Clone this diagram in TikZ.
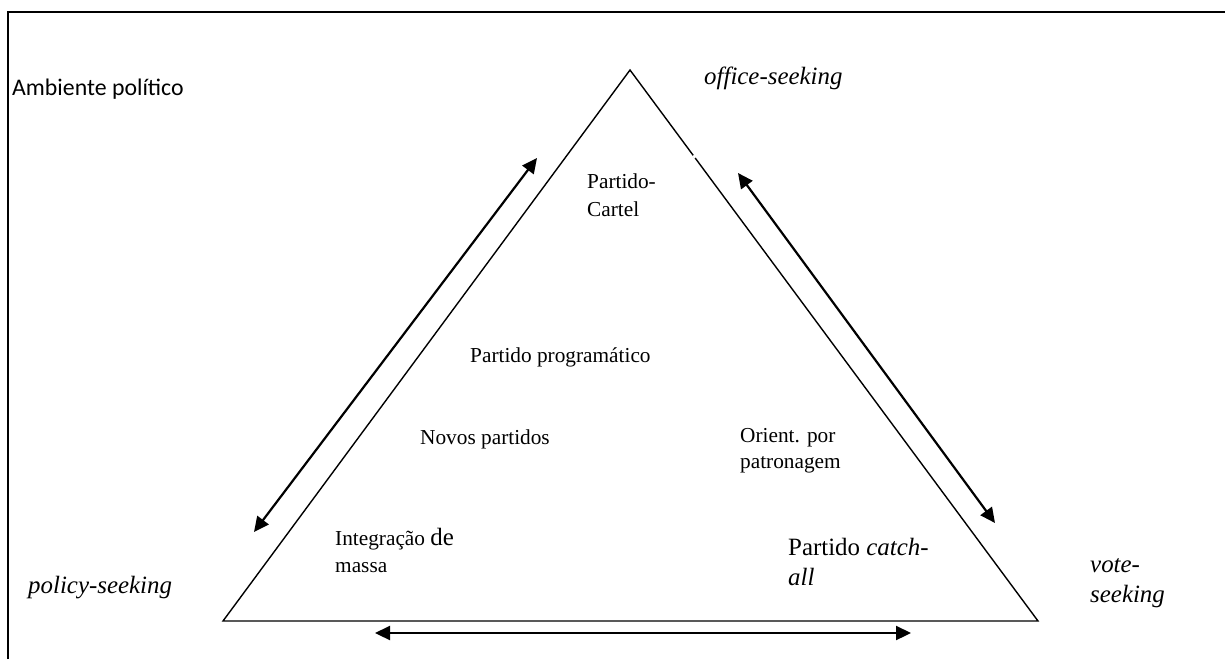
\documentclass[tikz,border=0pt]{standalone}
\usepackage{fontspec}
\setmainfont{Liberation Serif}
\newfontfamily\calibrifont{Carlito}
\usetikzlibrary{arrows.meta}

% two lines of text whose baseline is that of the first line
\newcommand\stacklines[3]{\vtop{\baselineskip=#1pt\hbox{#2}\hbox{#3}}}

\begin{document}
\begin{tikzpicture}[x=1pt,y=-1pt,
  txt/.style={inner sep=0pt, anchor=base west, font=\fontsize{21.3}{26}\selectfont},
  bigtxt/.style={inner sep=0pt, anchor=base west, font=\fontsize{24.9}{30}\selectfont},
  frameline/.style={line width=2pt, line join=miter},
  triline/.style={line width=1.4pt, line join=miter},
  both/.style={line width=2.2pt,
    {Triangle[length=15pt,width=14pt]}-{Triangle[length=15pt,width=14pt]}}]

\useasboundingbox (0,0) rectangle (1225,659);

% outer frame (top and left sides)
\draw[frameline] (8,659) -- (8,12) -- (1225,12);

% triangle
\coordinate (apex) at (630,70);
\coordinate (bl) at (223,621);
\coordinate (br) at (1038,621);
\draw[triline] (apex) -- (br) -- (bl) -- cycle;
% small break in the right side
\draw[white, line width=3pt] (693.6,155.2) -- (695.4,157.6);

% double-headed arrows along the sides
\coordinate (la) at (537,158);
\coordinate (lb) at (254,532);
\coordinate (ra) at (738,173);
\coordinate (rb) at (995,523);
\coordinate (ba) at (375,633);
\coordinate (bb) at (911,633);
\draw[both] (la) -- (lb);
\draw[both] (ra) -- (rb);
\draw[both] (ba) -- (bb);

% labels
\node[inner sep=0pt, anchor=base west, font=\calibrifont\fontsize{23.8}{28}\selectfont] (amb) at (12,95) {Ambiente político};
\node[bigtxt] (office) at (704,84) {\itshape office-seeking};
\node[bigtxt] (policy) at (28,593) {\itshape policy\upshape-\itshape seeking};
\node[bigtxt] (vote) at (1090,572) {\itshape\stacklines{30}{vote-}{seeking}};

\node[txt] (cartel) at (587,188) {\stacklines{28}{Partido-}{Cartel}};
\node[txt] (prog) at (470,362) {Partido programático};
\node[txt] (novos) at (420,444) {Novos partidos};
\node[txt] (integ) at (335,545) {\stacklines{27}{Integração {\fontsize{24.9}{30}\selectfont de}}{massa}};
\node[txt] (orient) at (740,442) {\stacklines{26}{Orient. por}{patronagem}};
\node[bigtxt] (catch) at (788,555) {\stacklines{30}{Partido \textit{catch-}}{\textit{all}}};

\end{tikzpicture}
\end{document}
